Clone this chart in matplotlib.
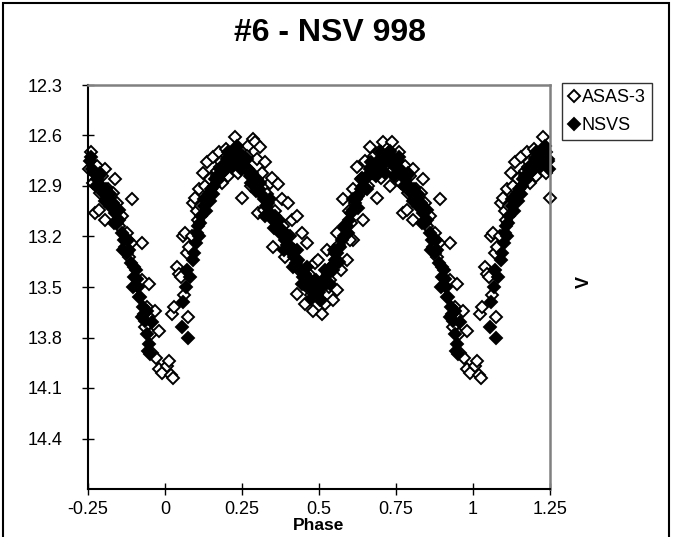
import numpy as np
import matplotlib
matplotlib.use('Agg')
import matplotlib.pyplot as plt
from matplotlib.patches import Rectangle

plt.rcParams['font.family'] = ['Liberation Sans', 'DejaVu Sans']

# phase-folded data over one cycle (0..1)
asas_phase = [0.005, 0.012, 0.018, 0.026, 0.022, 0.030, 0.038, 0.045, 0.052, 0.060,
              0.066, 0.072, 0.078, 0.088, 0.062, 0.075, 0.091, 0.098, 0.104, 0.112,
              0.118, 0.123, 0.130, 0.136, 0.142, 0.150, 0.156, 0.163, 0.169, 0.175,
              0.179, 0.186, 0.192, 0.198, 0.205, 0.212, 0.218, 0.227, 0.232, 0.238,
              0.244, 0.250, 0.256, 0.262, 0.270, 0.278, 0.286, 0.292, 0.298, 0.302,
              0.308, 0.316, 0.325, 0.332, 0.340, 0.347, 0.351, 0.358, 0.367, 0.372,
              0.380, 0.390, 0.399, 0.405, 0.412, 0.420, 0.428, 0.428, 0.436, 0.445,
              0.452, 0.455, 0.461, 0.468, 0.474, 0.480, 0.486, 0.490, 0.497, 0.503,
              0.510, 0.515, 0.520, 0.526, 0.532, 0.540, 0.545, 0.552, 0.558, 0.560,
              0.566, 0.572, 0.578, 0.584, 0.590, 0.596, 0.603, 0.610, 0.610, 0.618,
              0.623, 0.630, 0.636, 0.643, 0.650, 0.658, 0.666, 0.672, 0.680, 0.688,
              0.694, 0.700, 0.708, 0.715, 0.722, 0.730, 0.737, 0.745, 0.752, 0.760,
              0.766, 0.773, 0.780, 0.786, 0.795, 0.805, 0.805, 0.815, 0.825, 0.838,
              0.845, 0.852, 0.860, 0.870, 0.878, 0.883, 0.893, 0.900, 0.908, 0.915,
              0.925, 0.925, 0.932, 0.935, 0.942, 0.948, 0.955, 0.958, 0.968, 0.972,
              0.980, 0.980, 0.990, 0.108, 0.146, 0.182, 0.266, 0.320, 0.384, 0.415,
              0.470, 0.535, 0.600, 0.655, 0.690, 0.726, 0.790, 0.830, 0.888]
asas_mag = [13.97, 13.94, 14.02, 14.04, 13.66, 13.62, 13.38, 13.42, 13.44, 13.20,
            13.18, 13.30, 13.26, 13.20, 13.55, 13.68, 13.00, 12.97, 13.05, 12.92,
            13.02, 12.82, 12.90, 12.76, 12.95, 12.85, 12.73, 12.88, 12.81, 12.70,
            12.79, 12.88, 12.74, 12.68, 12.84, 12.72, 12.78, 12.61, 12.68, 12.82,
            12.74, 12.97, 12.70, 12.80, 12.66, 12.90, 12.62, 12.64, 12.74, 13.06,
            12.67, 12.82, 12.76, 12.95, 12.88, 12.85, 13.26, 13.05, 12.89, 13.12,
            12.98, 13.32, 13.00, 13.20, 13.10, 13.28, 13.08, 13.54, 13.40, 13.18,
            13.48, 13.60, 13.24, 13.42, 13.55, 13.64, 13.36, 13.50, 13.34, 13.58,
            13.66, 13.45, 13.60, 13.28, 13.50, 13.38, 13.58, 13.30, 13.18, 13.52,
            13.25, 13.40, 12.98, 13.15, 13.34, 13.05, 13.12, 12.92, 13.22, 13.00,
            12.79, 12.95, 12.86, 13.10, 12.75, 12.90, 12.67, 12.82, 12.72, 12.97,
            12.70, 12.85, 12.64, 12.78, 12.68, 12.90, 12.64, 12.72, 12.80, 12.70,
            12.88, 13.06, 12.78, 13.04, 12.84, 12.80, 13.10, 12.92, 13.02, 12.86,
            13.00, 13.14, 13.08, 13.26, 13.18, 13.32, 12.98, 13.38, 13.48, 13.56,
            13.24, 13.46, 13.66, 13.74, 13.62, 13.48, 13.78, 13.89, 13.64, 13.92,
            13.76, 13.99, 14.01, 13.10, 12.86, 12.76, 12.72, 13.04, 13.14, 13.30,
            13.52, 13.46, 13.22, 12.84, 12.78, 12.70, 12.94, 12.94, 13.24]

nsvs_phase = [0.055, 0.060, 0.068, 0.071, 0.075, 0.080, 0.090, 0.100, 0.107, 0.112,
              0.118, 0.125, 0.132, 0.140, 0.148, 0.155, 0.162, 0.170, 0.178, 0.185,
              0.192, 0.200, 0.208, 0.215, 0.222, 0.230, 0.238, 0.245, 0.252, 0.260,
              0.268, 0.275, 0.282, 0.290, 0.298, 0.305, 0.312, 0.320, 0.328, 0.335,
              0.342, 0.350, 0.358, 0.365, 0.372, 0.380, 0.388, 0.395, 0.402, 0.410,
              0.418, 0.425, 0.432, 0.440, 0.448, 0.455, 0.462, 0.470, 0.478, 0.485,
              0.492, 0.500, 0.508, 0.515, 0.522, 0.530, 0.538, 0.545, 0.552, 0.560,
              0.568, 0.575, 0.582, 0.590, 0.598, 0.605, 0.612, 0.620, 0.628, 0.635,
              0.642, 0.650, 0.658, 0.665, 0.672, 0.680, 0.688, 0.695, 0.702, 0.710,
              0.718, 0.725, 0.732, 0.740, 0.748, 0.755, 0.762, 0.770, 0.778, 0.785,
              0.792, 0.800, 0.808, 0.815, 0.822, 0.830, 0.838, 0.845, 0.852, 0.860,
              0.868, 0.875, 0.882, 0.890, 0.898, 0.905, 0.912, 0.920, 0.928, 0.935,
              0.942, 0.948, 0.952, 0.958,
              0.095, 0.103, 0.115, 0.128, 0.145, 0.158, 0.175, 0.190, 0.205, 0.218,
              0.235, 0.248, 0.265, 0.280, 0.295, 0.310, 0.325, 0.340, 0.355, 0.370,
              0.385, 0.400, 0.415, 0.430, 0.445, 0.460, 0.475, 0.490, 0.505, 0.518,
              0.535, 0.550, 0.565, 0.580, 0.595, 0.610, 0.625, 0.640, 0.655, 0.670,
              0.685, 0.700, 0.715, 0.730, 0.745, 0.760, 0.775, 0.790, 0.805, 0.820,
              0.835, 0.850, 0.865, 0.880, 0.895, 0.910, 0.925, 0.940, 0.946]
nsvs_mag = [13.74, 13.59, 13.50, 13.40, 13.80, 13.44, 13.34, 13.24, 13.14, 13.20,
            13.08, 13.02, 13.05, 12.96, 12.92, 12.95, 12.86, 12.84, 12.80, 12.82,
            12.77, 12.74, 12.76, 12.71, 12.69, 12.73, 12.70, 12.75, 12.72, 12.78,
            12.80, 12.84, 12.82, 12.88, 12.86, 12.92, 12.95, 12.98, 13.02, 13.00,
            13.06, 13.10, 13.08, 13.14, 13.18, 13.16, 13.22, 13.25, 13.28, 13.26,
            13.32, 13.36, 13.34, 13.40, 13.44, 13.42, 13.48, 13.46, 13.52, 13.50,
            13.55, 13.53, 13.50, 13.46, 13.48, 13.42, 13.38, 13.40, 13.34, 13.30,
            13.26, 13.22, 13.20, 13.14, 13.10, 13.06, 13.04, 12.98, 12.96, 12.92,
            12.90, 12.86, 12.84, 12.80, 12.82, 12.78, 12.76, 12.79, 12.74, 12.77,
            12.75, 12.72, 12.76, 12.74, 12.78, 12.75, 12.80, 12.82, 12.86, 12.84,
            12.90, 12.94, 12.92, 12.98, 13.02, 13.00, 13.06, 13.12, 13.10, 13.18,
            13.22, 13.30, 13.28, 13.36, 13.44, 13.40, 13.50, 13.56, 13.62, 13.70,
            13.78, 13.84, 13.90, 13.71,
            13.30, 13.18, 13.12, 12.98, 12.99, 12.90, 12.86, 12.81, 12.70, 12.78,
            12.66, 12.80, 12.74, 12.88, 12.93, 12.88, 13.08, 12.98, 13.15, 13.10,
            13.28, 13.20, 13.38, 13.28, 13.48, 13.38, 13.57, 13.46, 13.58, 13.40,
            13.48, 13.28, 13.35, 13.14, 13.18, 12.98, 13.03, 12.85, 12.92, 12.76,
            12.84, 12.70, 12.82, 12.69, 12.84, 12.73, 12.90, 12.82, 12.99, 12.95,
            13.12, 13.04, 13.28, 13.22, 13.50, 13.45, 13.68, 13.64, 13.88]

x_ticks = [-0.25, 0, 0.25, 0.5, 0.75, 1, 1.25]
x_labels = ['-0.25', '0', '0.25', '0.5', '0.75', '1', '1.25']
y_ticks = [12.3, 12.6, 12.9, 13.2, 13.5, 13.8, 14.1, 14.4]
y_labels = ['12.3', '12.6', '12.9', '13.2', '13.5', '13.8', '14.1', '14.4']


def fold(phase, mag):
    # repeat the cycle so the plot covers -0.25..1.25
    p = np.array(phase)
    m = np.array(mag)
    lo = p >= 0.75
    hi = p <= 0.25
    return (np.concatenate([p[lo] - 1, p, p[hi] + 1]),
            np.concatenate([m[lo], m, m[hi]]))


fig = plt.figure(figsize=(6.75, 5.37), dpi=100)
ax = fig.add_axes([88 / 675, 1 - 489 / 537, 462 / 675, 404 / 537])

ap, am = fold(asas_phase, asas_mag)
npx, nm = fold(nsvs_phase, nsvs_mag)
ax.plot(ap, am, 'D', ms=6.2, mfc='white', mec='black', mew=1.4,
        label='ASAS-3', clip_on=False)
ax.plot(npx, nm, 'D', ms=6.2, mfc='black', mec='black', mew=1.4,
        label='NSVS', clip_on=False)

ax.set_xlim(-0.25, 1.25)
ax.set_ylim(14.7, 12.3)
ax.set_xticks(x_ticks)
ax.set_xticklabels(x_labels)
ax.set_yticks(y_ticks)
ax.set_yticklabels(y_labels)
ax.tick_params(direction='inout', length=9, width=1, labelsize=13, color='black')
ax.tick_params(axis='y', pad=14)
ax.tick_params(axis='x', pad=4)

for side in ['left', 'bottom']:
    ax.spines[side].set_color('black')
    ax.spines[side].set_linewidth(1.5)
for side in ['top', 'right']:
    ax.spines[side].set_color('#808080')
    ax.spines[side].set_linewidth(1.8)

ax.set_xlabel('Phase', fontsize=12.5, fontweight='bold', labelpad=0)
fig.text(584 / 675, 1 - 282 / 537, 'V', rotation=90, fontsize=13,
         fontweight='bold', ha='center', va='center')
fig.text(330 / 675, 1 - 33 / 537, '#6 - NSV 998', fontsize=23,
         fontweight='bold', ha='center', va='center')

leg = fig.legend(loc='upper left', bbox_to_anchor=(562 / 675, 1 - 83 / 537),
                 fontsize=13, frameon=True, fancybox=False, edgecolor='black',
                 handlelength=0.6, handletextpad=0.15, borderpad=0.35,
                 labelspacing=0.6, borderaxespad=0)
leg.get_frame().set_linewidth(1.0)

# outer chart border (open at the bottom)
fig.patches.append(Rectangle((3 / 675, -0.05), 666 / 675, 1.05 - 3 / 537,
                             transform=fig.transFigure, fill=False,
                             edgecolor='black', linewidth=1.5))

fig.savefig('out.png', dpi=100)
plt.close()
